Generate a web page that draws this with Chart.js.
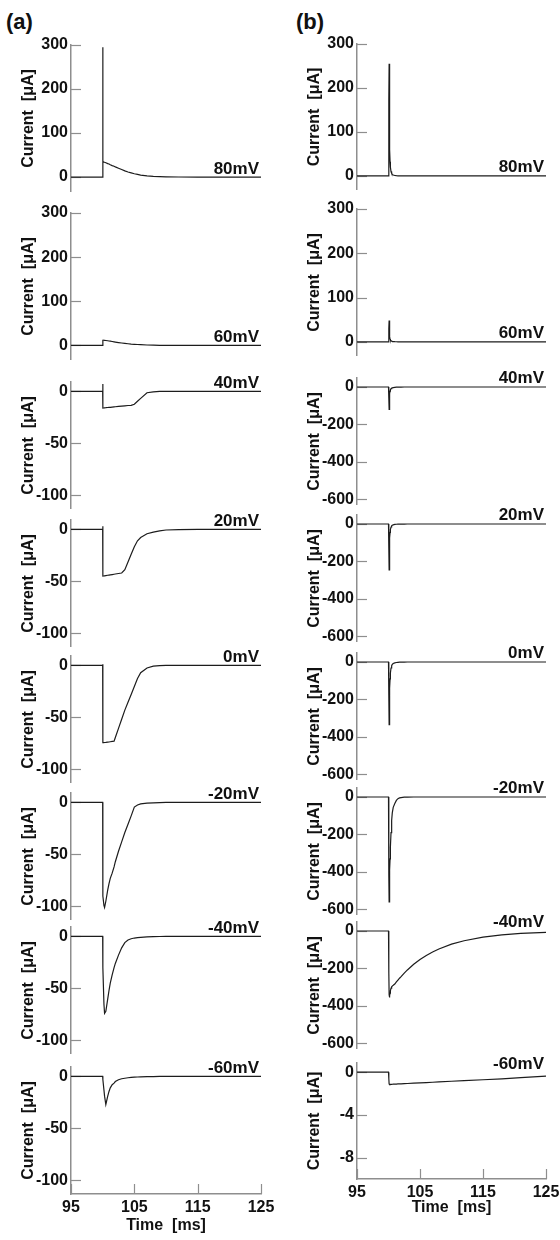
<!DOCTYPE html>
<html>
<head>
<meta charset="utf-8">
<script src="https://cdn.jsdelivr.net/npm/chart.js@4.4.1/dist/chart.umd.min.js"></script>
<style>
  html, body { margin: 0; padding: 0; background: #fff; }
  #fig { position: relative; width: 560px; height: 1240px; overflow: hidden;
         font-family: "Liberation Sans", Arial, sans-serif; }
  .panel { position: absolute; }
  .tag { position: absolute; font-weight: bold; font-size: 22px; color: #111; line-height: 1; }
</style>
</head>
<body>
<div id="fig">
  <div class="tag" style="left:6px;top:11px">(a)</div>
  <div class="tag" style="left:296px;top:11px">(b)</div>
</div>
<script>
// ---- sample times (ms) ----
const timeA = [95, 100, 100.01, 100.05, 100.2, 100.3, 100.5, 100.8, 101, 101.2, 101.5, 101.8,
               102, 102.5, 103, 103.5, 104, 104.5, 105, 105.5, 106, 107, 108, 109, 110, 112, 115, 120, 125];
const timeB = [95, 100, 100.05, 100.1, 100.15, 100.2, 100.25, 100.3, 100.4, 100.5, 100.6, 100.75,
               101, 101.25, 101.5, 101.75, 102, 102.5, 103, 104, 105, 106, 107, 108, 110, 112, 115, 118, 121, 125];

// ---- column (a) currents, µA ----
const a80  = [0, 0, 295, 35, 34, 33.5, 32.5, 30.5, 29.5, 28, 26, 24.5, 23, 20, 17, 14, 11.5, 9.5, 7.5, 6, 4.5, 2.6, 1.4, 0.8, 0.4, 0.1, 0, 0, 0];
const a60  = [0, 0, 13, 12, 11.8, 11.6, 11.2, 10.6, 10.1, 9.6, 8.9, 8.1, 7.6, 6.5, 5.5, 4.6, 3.8, 3.1, 2.6, 2.1, 1.7, 1.0, 0.6, 0.3, 0.15, 0, 0, 0, 0];
const a40  = [0, 0, 7, -16, -15.9, -15.8, -15.7, -15.5, -15.4, -15.3, -15.1, -14.9, -14.8, -14.5, -14.2, -13.9, -13.6, -13.4, -12.4, -9.5, -6.7, -1.3, -0.4, -0.1, 0, 0, 0, 0, 0];
const a20  = [0, 0, 3, -44.8, -44.7, -44.6, -44.4, -44.1, -43.9, -43.7, -43.4, -43.1, -42.9, -42.4, -41.9, -38.7, -31.4, -24, -16.7, -11, -7.8, -4.2, -2.6, -1.4, -0.6, -0.2, 0, 0, 0];
const a0   = [0, 0, 1, -74.3, -74.2, -74.1, -74, -73.7, -73.6, -73.4, -73.1, -72.8, -69.3, -60.5, -51.8, -43, -35.4, -27.9, -20.3, -12.7, -7, -2.5, -0.8, -0.3, -0.1, 0, 0, 0, 0];
const aM20 = [0, 0, 0, -90, -99, -101, -95, -84, -78, -73, -68, -62, -57, -47, -38, -29, -21, -13, -4.5, -2.5, -1.5, -0.8, -0.4, -0.2, 0, 0, 0, 0, 0];
const aM40 = [0, 0, 0, -30, -65, -74, -72, -60, -52, -45, -37, -30, -26, -18, -11, -6, -3.5, -2.3, -1.6, -1.2, -0.9, -0.5, -0.3, -0.15, -0.1, 0, 0, 0, 0];
const aM60 = [0, 0, 0, -3, -13, -19, -27, -19, -14.5, -11, -8, -6.5, -5, -3.3, -2.3, -1.8, -1.3, -1.0, -0.8, -0.6, -0.5, -0.3, -0.2, -0.1, 0, 0, 0, 0, 0];

// ---- column (b) currents, µA ----
const b80  = [0, 0, 175, 255, 120, 60, 32, 20, 10, 6, 3.5, 2, 1, 0.5, 0.3, 0.2, 0.1, 0, 0, 0, 0, 0, 0, 0, 0, 0, 0, 0, 0, 0];
const b60  = [0, 0, 30, 48, 22, 11, 6.5, 4.2, 2.4, 1.5, 1, 0.6, 0.3, 0.15, 0.1, 0, 0, 0, 0, 0, 0, 0, 0, 0, 0, 0, 0, 0, 0, 0];
const b40  = [0, 0, -60, -120, -65, -35, -22, -15, -9, -6, -4.5, -3, -1.8, -1.2, -0.8, -0.5, -0.3, -0.1, 0, 0, 0, 0, 0, 0, 0, 0, 0, 0, 0, 0];
const b20  = [0, 0, -130, -245, -140, -75, -45, -30, -16, -10, -7, -4.5, -2.5, -1.5, -1, -0.6, -0.4, -0.2, 0, 0, 0, 0, 0, 0, 0, 0, 0, 0, 0, 0];
const b0   = [0, 0, -180, -335, -230, -140, -90, -60, -32, -20, -13, -8, -4.5, -2.8, -1.8, -1.2, -0.8, -0.4, -0.1, 0, 0, 0, 0, 0, 0, 0, 0, 0, 0, 0];
const bM20 = [0, 0, -420, -560, -470, -390, -330, -270, -190, -125, -85, -55, -35, -18, -9, -5, -3, -1.2, -0.5, -0.1, 0, 0, 0, 0, 0, 0, 0, 0, 0, 0];
const bM40 = [0, 0, -220, -340, -355, -345, -332, -320, -305, -298, -294, -290, -283, -272, -262, -252, -244, -225, -208, -178, -152, -131, -112, -96, -70, -52, -33, -21, -13, -7];
const bM60 = [0, 0, -0.6, -1.1, -1.15, -1.15, -1.15, -1.14, -1.14, -1.13, -1.13, -1.12, -1.12, -1.11, -1.1, -1.1, -1.09, -1.07, -1.06, -1.03, -1.0, -0.97, -0.94, -0.91, -0.85, -0.79, -0.71, -0.62, -0.52, -0.38];

// ---- labels and ticks ----
const voltageLabels = ['80mV', '60mV', '40mV', '20mV', '0mV', '-20mV', '-40mV', '-60mV'];
const ticksPositive = [0, 100, 200, 300];
const ticksNegA     = [0, -50, -100];
const ticksNegB     = [0, -200, -400, -600];
const ticksSmallB   = [0, -4, -8];
const timeTicks     = [95, 105, 115, 125];
const yTitle = 'Current  [\u03bcA]';
const xTitle = 'Time  [ms]';

// ---- panel geometry (page pixels) ----
const columns = [
  { axisX: 71,  right: 261, titleGap: 32, times: timeA,
    series: [a80, a60, a40, a20, a0, aM20, aM40, aM60],
    rows: [
      { top: 45,   bottom: 192,  min: -34,  max: 300,  ticks: ticksPositive },
      { top: 213,  bottom: 360,  min: -33,  max: 300,  ticks: ticksPositive },
      { top: 382,  bottom: 509,  min: -113, max: 9,    ticks: ticksNegA },
      { top: 520,  bottom: 647,  min: -113, max: 9,    ticks: ticksNegA },
      { top: 656,  bottom: 783,  min: -113, max: 9,    ticks: ticksNegA },
      { top: 793,  bottom: 920,  min: -113, max: 9,    ticks: ticksNegA },
      { top: 927,  bottom: 1054, min: -113, max: 9,    ticks: ticksNegA },
      { top: 1067, bottom: 1194, min: -113, max: 9,    ticks: ticksNegA }
    ] },
  { axisX: 357, right: 546, titleGap: 29, times: timeB,
    series: [b80, b60, b40, b20, b0, bM20, bM40, bM60],
    rows: [
      { top: 44,   bottom: 190,  min: -32,   max: 300,  ticks: ticksPositive },
      { top: 209,  bottom: 356,  min: -32,   max: 300,  ticks: ticksPositive },
      { top: 378,  bottom: 505,  min: -630,  max: 48,   ticks: ticksNegB },
      { top: 515,  bottom: 642,  min: -630,  max: 48,   ticks: ticksNegB },
      { top: 653,  bottom: 780,  min: -630,  max: 48,   ticks: ticksNegB },
      { top: 788,  bottom: 915,  min: -630,  max: 48,   ticks: ticksNegB },
      { top: 922,  bottom: 1049, min: -630,  max: 48,   ticks: ticksNegB },
      { top: 1063, bottom: 1179, min: -9.95, max: 0.85, ticks: ticksSmallB }
    ] }
];

const AXIS_COLOR = '#8e8e8e';
const INK = '#111';
const FONT = '"Liberation Sans", Arial, sans-serif';

// short tick marks pointing into the plot
const innerTicks = {
  id: 'innerTicks',
  beforeDatasetsDraw(chart) {
    const { ctx, chartArea, scales: { x, y } } = chart;
    ctx.save();
    ctx.strokeStyle = AXIS_COLOR;
    ctx.lineWidth = 1.2;
    y.ticks.forEach(t => {
      const py = Math.round(y.getPixelForValue(t.value)) + 0.5;
      ctx.beginPath();
      ctx.moveTo(chartArea.left, py);
      ctx.lineTo(chartArea.left + 10, py);
      ctx.stroke();
    });
    if (x.options.display) {
      x.ticks.forEach(t => {
        const px = Math.round(x.getPixelForValue(t.value)) + 0.5;
        ctx.beginPath();
        ctx.moveTo(px, chartArea.bottom);
        ctx.lineTo(px, chartArea.bottom - 10);
        ctx.stroke();
      });
    }
    ctx.restore();
  }
};

// holding-potential caption sitting on the zero line
const potentialLabel = {
  id: 'potentialLabel',
  afterDraw(chart, args, opts) {
    const { ctx, chartArea, scales: { y } } = chart;
    ctx.save();
    ctx.font = 'bold 17px ' + FONT;
    ctx.fillStyle = INK;
    ctx.textAlign = 'right';
    ctx.textBaseline = 'alphabetic';
    ctx.fillText(opts.text, chartArea.right - 2, y.getPixelForValue(0) - 3.5);
    ctx.restore();
  }
};

const fig = document.getElementById('fig');
const AXIS_SPACE = 66, PAD_TOP = 16, PAD_RIGHT = 16, X_SPACE = 48;

columns.forEach(col => {
  col.rows.forEach((row, r) => {
    const isBottom = r === col.rows.length - 1;
    const plotW = col.right - col.axisX;
    const w = AXIS_SPACE + plotW + PAD_RIGHT;
    const h = PAD_TOP + (row.bottom - row.top) + (isBottom ? X_SPACE : 0);
    const holder = document.createElement('div');
    holder.className = 'panel';
    holder.style.left = (col.axisX - AXIS_SPACE) + 'px';
    holder.style.top = (row.top - PAD_TOP) + 'px';
    holder.style.width = w + 'px';
    holder.style.height = h + 'px';
    const canvas = document.createElement('canvas');
    canvas.width = w;
    canvas.height = h;
    holder.appendChild(canvas);
    fig.appendChild(holder);

    const values = col.series[r];
    const points = col.times.map((t, i) => ({ x: t, y: values[i] }));

    new Chart(canvas, {
      type: 'line',
      data: {
        datasets: [{
          data: points,
          borderColor: '#1c1c1c',
          borderWidth: 1.2,
          pointRadius: 0,
          tension: 0,
          fill: false
        }]
      },
      options: {
        responsive: false,
        animation: false,
        events: [],
        layout: { padding: { top: PAD_TOP, right: PAD_RIGHT, left: 0, bottom: 0 } },
        plugins: {
          legend: { display: false },
          tooltip: { enabled: false },
          potentialLabel: { text: voltageLabels[r] }
        },
        scales: {
          x: {
            type: 'linear',
            min: 95,
            max: 125,
            display: isBottom,
            afterBuildTicks: s => { s.ticks = timeTicks.map(v => ({ value: v })); },
            afterFit: s => {
              s.height = isBottom ? X_SPACE : 0;
              s.paddingLeft = 0; s.paddingRight = 0;
            },
            grid: { display: false, drawTicks: false },
            border: { display: true, color: AXIS_COLOR, width: 1.5 },
            ticks: { color: INK, padding: 4, maxRotation: 0, autoSkip: false,
                     font: { family: FONT, size: 16, weight: 'bold' } },
            title: { display: true, text: xTitle, color: INK,
                     font: { family: FONT, size: 16, weight: 'bold' },
                     padding: { top: 0, bottom: X_SPACE - col.titleGap - 9.6 } }
          },
          y: {
            type: 'linear',
            min: row.min,
            max: row.max,
            afterBuildTicks: s => { s.ticks = row.ticks.map(v => ({ value: v })); },
            afterFit: s => { s.width = AXIS_SPACE; s.paddingTop = 0; s.paddingBottom = 0; },
            grid: { display: false, drawTicks: false },
            border: { display: true, color: AXIS_COLOR, width: 1.5 },
            ticks: { color: INK, padding: 3, autoSkip: false,
                     font: { family: FONT, size: 16, weight: 'bold' } },
            title: { display: true, text: yTitle, color: INK,
                     font: { family: FONT, size: 16, weight: 'bold' },
                     padding: { top: 14, bottom: 0 } }
          }
        }
      },
      plugins: [innerTicks, potentialLabel]
    });
  });
});
</script>
</body>
</html>
